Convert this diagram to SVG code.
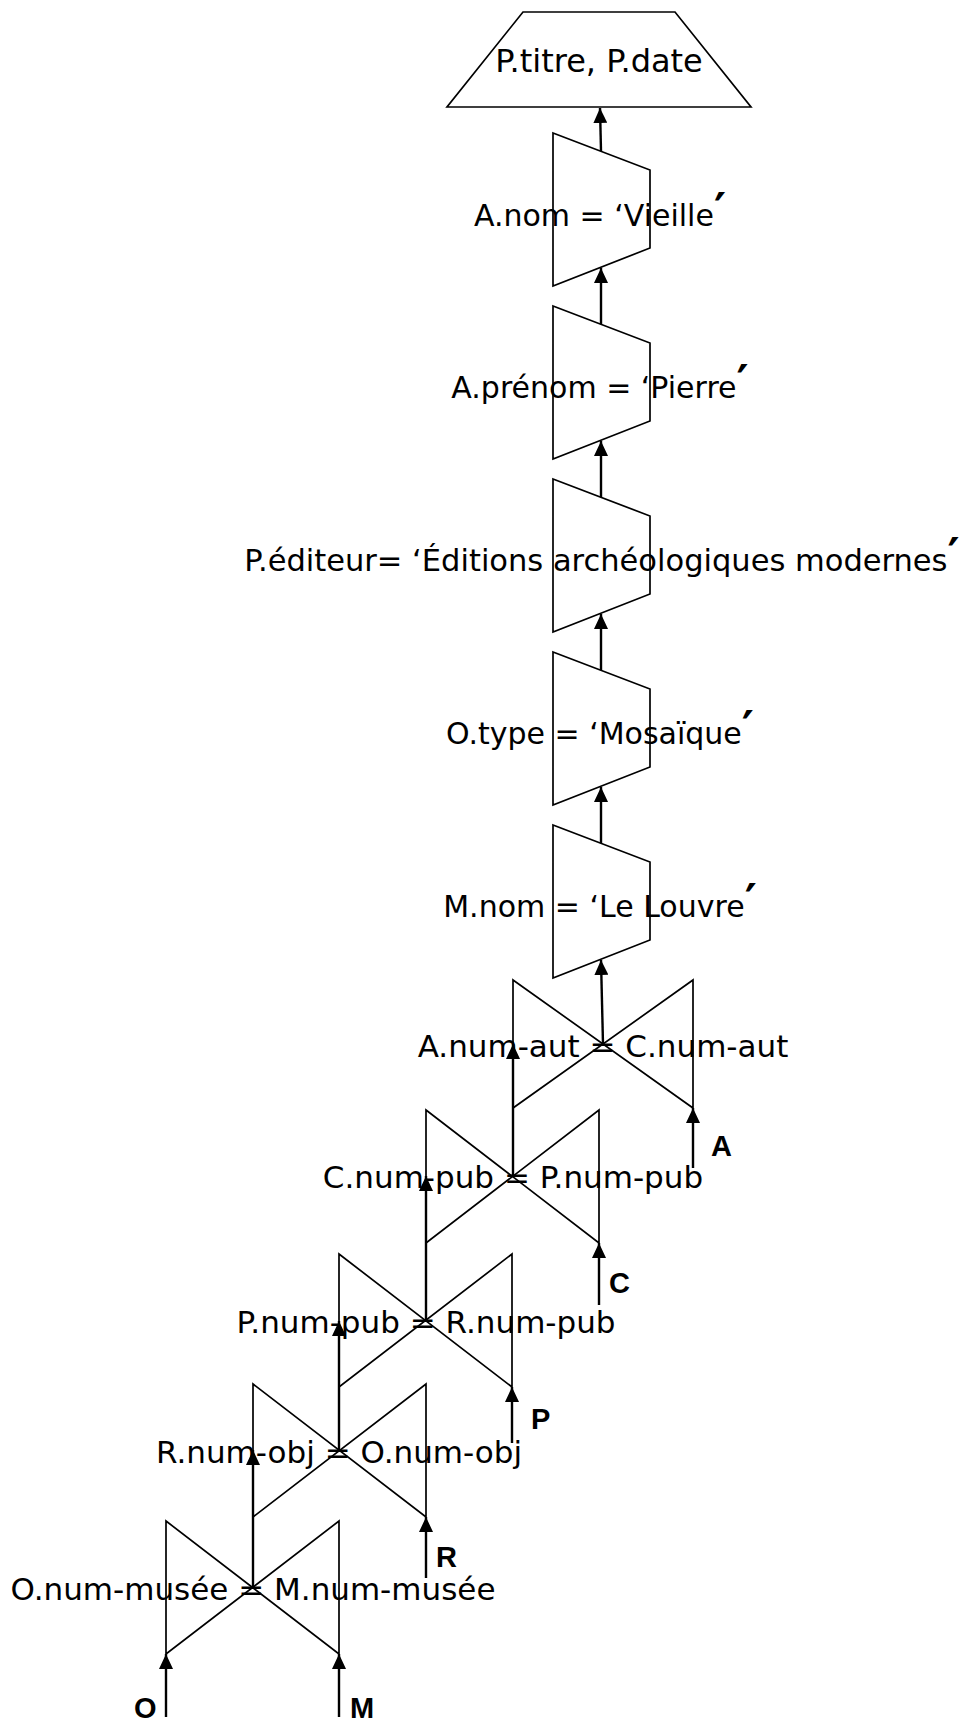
<svg xmlns="http://www.w3.org/2000/svg" width="965" height="1722" viewBox="0 0 965 1722">
<style>
.shape{fill:none;stroke:#000;stroke-width:1.7;stroke-linejoin:miter}
.lbl{font-family:"DejaVu Sans",Verdana,sans-serif;font-size:30px;fill:#000;text-anchor:middle}
.jl{font-family:"DejaVu Sans",Verdana,sans-serif;font-size:31px;fill:#000;text-anchor:middle}
.rel{font-family:"Liberation Sans",Arial,sans-serif;font-size:29px;font-weight:bold;fill:#000}
.pr{font-size:46px;font-weight:bold}
.conn{stroke:#000;stroke-width:2.4;fill:none;marker-end:url(#ah)}
</style>
<defs>
<marker id="ah" viewBox="0 0 15 14" refX="15" refY="7" markerWidth="15" markerHeight="14" markerUnits="userSpaceOnUse" orient="auto">
<path d="M0,0 L15,7 L0,14 z" fill="#000"/>
</marker>
</defs>
<rect width="965" height="1722" fill="#fff"/>

<g id="proj">
<polygon class="shape" points="523,12 675,12 751,107 447,107"/>
<text class="lbl" x="599" y="72" style="font-size:32px">P.titre, P.date</text>
</g>

<g id="sel-vieille">
<polygon class="shape" points="553,133 650,170 650,248 553,286"/>
<text class="lbl" x="600" y="226">A.nom = ‘Vieille<tspan class="pr">′</tspan></text>
</g>
<g id="sel-pierre">
<polygon class="shape" points="553,306 650,343 650,421 553,459"/>
<text class="lbl" x="600" y="398">A.prénom = ‘Pierre<tspan class="pr">′</tspan></text>
</g>
<g id="sel-editeur">
<polygon class="shape" points="553,479 650,516 650,594 553,632"/>
<text class="lbl" x="602" y="571" style="font-size:30.5px">P.éditeur= ‘Éditions archéologiques modernes<tspan class="pr">′</tspan></text>
</g>
<g id="sel-type">
<polygon class="shape" points="553,652 650,689 650,767 553,805"/>
<text class="lbl" x="600" y="744">O.type = ‘Mosaïque<tspan class="pr">′</tspan></text>
</g>
<g id="sel-musee">
<polygon class="shape" points="553,825 650,862 650,940 553,978"/>
<text class="lbl" x="600" y="917">M.nom = ‘Le Louvre<tspan class="pr">′</tspan></text>
</g>

<g id="join1">
<polygon class="shape" points="513,980 693,1108 693,980 513,1108"/>
<text class="jl" x="603" y="1057">A.num-aut = C.num-aut</text>
</g>
<g id="join2">
<polygon class="shape" points="426,1110 599,1243 599,1110 426,1243"/>
<text class="jl" x="513" y="1188">C.num-pub = P.num-pub</text>
</g>
<g id="join3">
<polygon class="shape" points="339,1254 512,1387 512,1254 339,1387"/>
<text class="jl" x="426" y="1333">P.num-pub = R.num-pub</text>
</g>
<g id="join4">
<polygon class="shape" points="253,1384 426,1517 426,1384 253,1517"/>
<text class="jl" x="339" y="1463">R.num-obj = O.num-obj</text>
</g>
<g id="join5">
<polygon class="shape" points="166,1521 339,1654 339,1521 166,1654"/>
<text class="jl" x="253" y="1600">O.num-musée = M.num-musée</text>
</g>

<g id="rel-A"><text class="rel" x="711" y="1156">A</text></g>
<g id="rel-C"><text class="rel" x="609" y="1293">C</text></g>
<g id="rel-P"><text class="rel" x="531" y="1429">P</text></g>
<g id="rel-R"><text class="rel" x="436" y="1567">R</text></g>
<g id="rel-O"><text class="rel" x="134" y="1718">O</text></g>
<g id="rel-M"><text class="rel" x="350" y="1718">M</text></g>

<g id="connectors">
<line class="conn" x1="601" y1="151" x2="600" y2="108"/>
<line class="conn" x1="601" y1="324" x2="601" y2="268"/>
<line class="conn" x1="601" y1="497" x2="601" y2="441"/>
<line class="conn" x1="601" y1="670" x2="601" y2="614"/>
<line class="conn" x1="601" y1="843" x2="601" y2="787"/>
<line class="conn" x1="603" y1="1044" x2="601" y2="960"/>
<line class="conn" x1="513" y1="1176" x2="513" y2="1044"/>
<line class="conn" x1="693" y1="1168" x2="693" y2="1108"/>
<line class="conn" x1="426" y1="1321" x2="426" y2="1176"/>
<line class="conn" x1="599" y1="1305" x2="599" y2="1243"/>
<line class="conn" x1="339" y1="1450" x2="339" y2="1321"/>
<line class="conn" x1="512" y1="1443" x2="512" y2="1387"/>
<line class="conn" x1="253" y1="1588" x2="253" y2="1450"/>
<line class="conn" x1="426" y1="1578" x2="426" y2="1517"/>
<line class="conn" x1="166" y1="1717" x2="166" y2="1654"/>
<line class="conn" x1="339" y1="1717" x2="339" y2="1654"/>
</g>
</svg>
